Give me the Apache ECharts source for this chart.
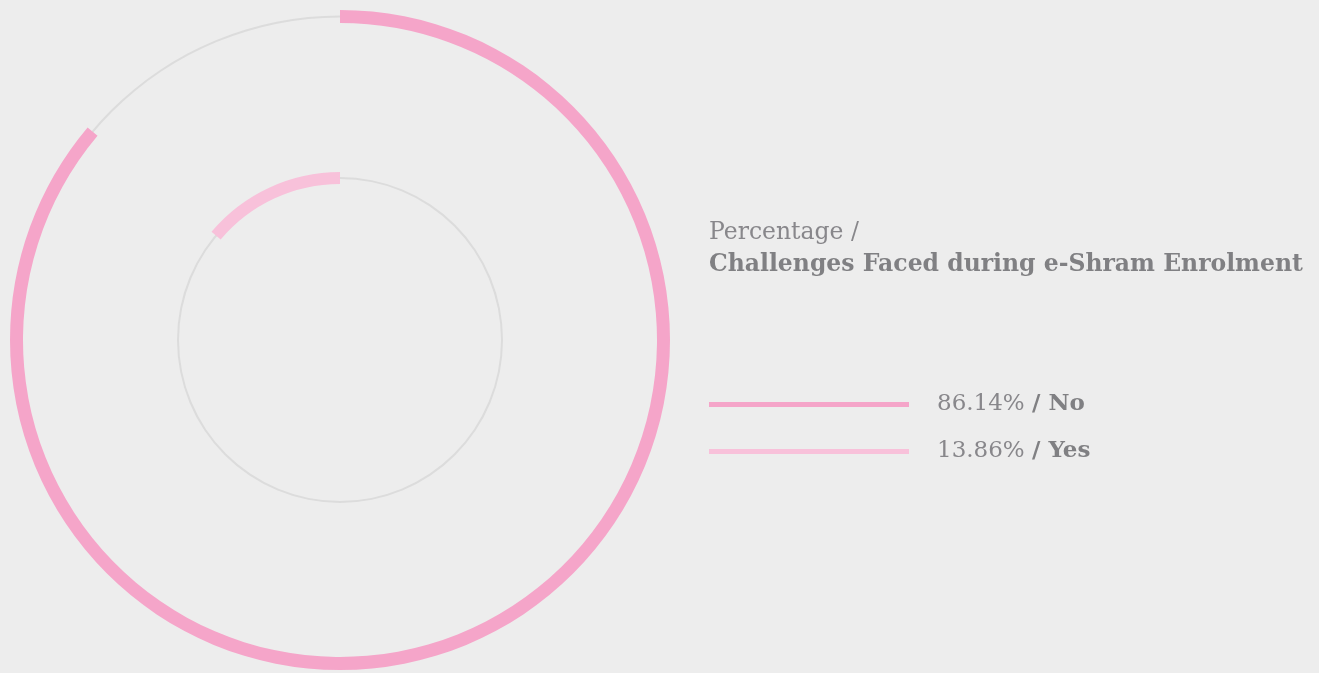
<!DOCTYPE html>
<html>
<head>
<meta charset="utf-8">
<script src="https://cdn.jsdelivr.net/npm/echarts@6/dist/echarts.min.js"></script>
<style>
html,body{margin:0;padding:0;background:#ededed;}
#chart{width:1319px;height:673px;}
</style>
</head>
<body>
<div id="chart"></div>
<script>
// Data
const categories = ['No', 'Yes'];
const percentages = [86.14, 13.86];
const titleMeasure = 'Percentage';
const titleDimension = 'Challenges Faced during e-Shram Enrolment';

const colors = ['#f5a5c9', '#f8c1da'];
const trackColor = '#dcdcdc';
const textColor = '#88878b';
const fontFamily = '"DejaVu Serif", "Liberation Serif", serif';

const chart = echarts.init(document.getElementById('chart'));

const center = [340, 340];
const total = percentages.reduce((a, b) => a + b, 0);

function ringData(idx) {
  const data = [];
  for (let i = 0; i < categories.length; i++) {
    if (i === idx) {
      data.push({ name: categories[i], value: percentages[i], itemStyle: { color: colors[i] } });
    } else {
      data.push({ name: '_gap' + idx + '_' + i, value: percentages[i], itemStyle: { color: 'rgba(0,0,0,0)' } });
    }
  }
  return data;
}

const common = {
  type: 'pie',
  center: center,
  startAngle: 90,
  clockwise: true,
  silent: true,
  avoidLabelOverlap: false,
  label: { show: false },
  labelLine: { show: false },
  emphasis: { disabled: true },
  animation: false,
  itemStyle: { borderWidth: 0 },
  padAngle: 0
};

const option = {
  backgroundColor: '#ededed',
  animation: false,
  title: {
    left: 709,
    top: 217,
    padding: 0,
    text: '{a|' + titleMeasure + ' /}\n{b|' + titleDimension + '}',
    textStyle: {
      rich: {
        a: { fontFamily: fontFamily, fontSize: 23.5, color: textColor, fontWeight: 'normal', lineHeight: 32 },
        b: { fontFamily: fontFamily, fontSize: 23.5, color: '#808083', fontWeight: 'bold', lineHeight: 32 }
      }
    }
  },
  legend: {
    orient: 'vertical',
    left: 709,
    top: 393,
    padding: 0,
    icon: 'rect',
    itemWidth: 200,
    itemHeight: 5,
    itemGap: 24,
    selectedMode: false,
    data: categories,
    formatter: function (name) {
      const i = categories.indexOf(name);
      return '{v|' + percentages[i].toFixed(2) + '% }{n|/ ' + name + '}';
    },
    textStyle: {
      padding: [0, 0, 0, 23],
      rich: {
        v: { fontFamily: fontFamily, fontSize: 23, color: textColor, lineHeight: 27 },
        n: { fontFamily: fontFamily, fontSize: 23, color: '#808083', fontWeight: 'bold', lineHeight: 27 }
      }
    }
  },
  series: [
    Object.assign({}, common, {
      name: 'outerTrack', z: 1, radius: [322.5, 324.5],
      data: [{ name: 'trackOuter', value: total, itemStyle: { color: trackColor } }]
    }),
    Object.assign({}, common, {
      name: 'innerTrack', z: 1, radius: [161, 163],
      data: [{ name: 'trackInner', value: total, itemStyle: { color: trackColor } }]
    }),
    Object.assign({}, common, {
      name: 'outer', z: 2, radius: [317, 330],
      data: ringData(0)
    }),
    Object.assign({}, common, {
      name: 'inner', z: 2, radius: [156, 168],
      data: ringData(1)
    })
  ]
};

chart.setOption(option);
</script>
</body>
</html>
